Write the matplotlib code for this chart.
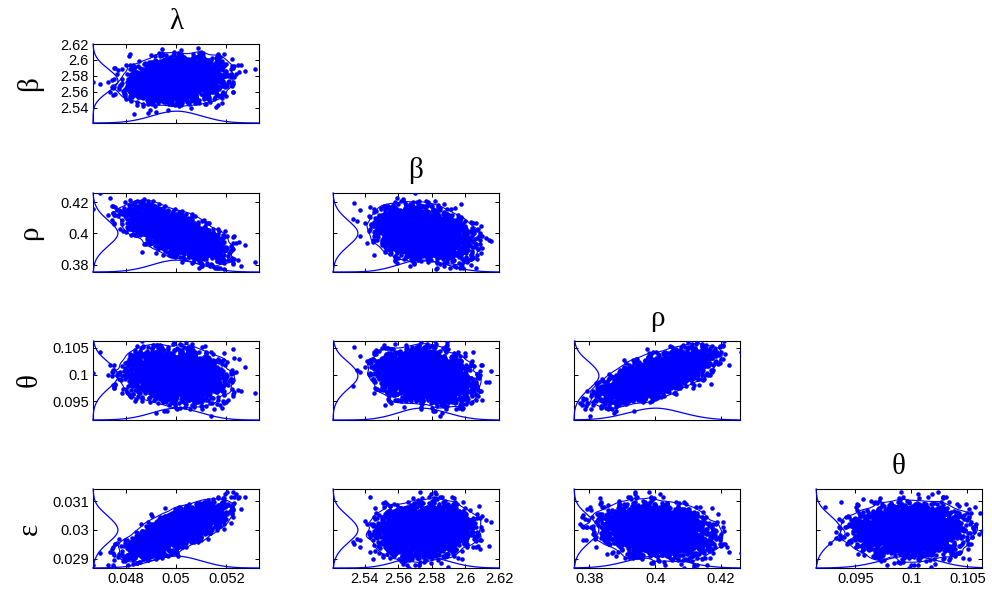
import matplotlib
matplotlib.use("Agg")
import matplotlib.pyplot as plt
import numpy as np

# parameter names, posterior summaries
names = ["λ", "β", "ρ", "θ", "ε"]
means = [0.0500, 2.575, 0.400, 0.0997, 0.0300]
sds = [0.0009, 0.013, 0.0075, 0.0022, 0.00042]
# pairwise correlations (lambda, beta, rho, theta, eps)
corr_lb, corr_lr, corr_lt, corr_le = 0.15, -0.70, -0.08, 0.80
corr_br, corr_bt, corr_be = -0.30, -0.20, 0.10
corr_rt, corr_re = 0.70, -0.20
corr_te = 0.05
n_samples = 3000

# axis limits, ticks and tick labels per parameter
limits = [(0.0467, 0.0533), (2.521, 2.620), (0.3753, 0.4258),
          (0.0915, 0.1063), (0.02868, 0.03142)]
ticks = [[0.048, 0.05, 0.052], [2.54, 2.56, 2.58, 2.6, 2.62],
         [0.38, 0.4, 0.42], [0.095, 0.1, 0.105], [0.029, 0.03, 0.031]]
tick_labels = [["0.048", "0.05", "0.052"], ["2.54", "2.56", "2.58", "2.6", "2.62"],
               ["0.38", "0.4", "0.42"], ["0.095", "0.1", "0.105"],
               ["0.029", "0.03", "0.031"]]

corr = np.eye(5)
pairs = {(0, 1): corr_lb, (0, 2): corr_lr, (0, 3): corr_lt, (0, 4): corr_le,
         (1, 2): corr_br, (1, 3): corr_bt, (1, 4): corr_be,
         (2, 3): corr_rt, (2, 4): corr_re, (3, 4): corr_te}
for (a, b), c in pairs.items():
    corr[a, b] = corr[b, a] = c
# keep it positive definite
w, v = np.linalg.eigh(corr)
corr = v @ np.diag(np.clip(w, 0.02, None)) @ v.T
d = np.sqrt(np.diag(corr))
corr = corr / np.outer(d, d)

rng = np.random.default_rng(3)
z = rng.standard_normal((n_samples, 5)) @ np.linalg.cholesky(corr).T
samples = np.array(means) + z * np.array(sds)

BLUE = (0, 0, 1)


def kde1d(data, grid):
    bw = 1.06 * data.std() * len(data) ** (-0.2) * 2.2
    u = (grid[:, None] - data[None, :]) / bw
    return np.exp(-0.5 * u ** 2).sum(axis=1)


def smooth(h, s=2.0):
    k = np.arange(-6, 7)
    k = np.exp(-0.5 * (k / s) ** 2)
    k /= k.sum()
    h = np.apply_along_axis(lambda r: np.convolve(r, k, mode="same"), 0, h)
    h = np.apply_along_axis(lambda r: np.convolve(r, k, mode="same"), 1, h)
    return h


fig = plt.figure(figsize=(9.92, 5.89), dpi=100)
W, H = 992, 589
col_left = [93, 333, 574, 816]
row_top = [44, 193, 341, 489]
aw, ah = 166, 79

for i in range(4):
    py = i + 1
    for j in range(i + 1):
        px = j
        ax = fig.add_axes([col_left[j] / W, (H - row_top[i] - ah) / H, aw / W, ah / H])
        x = samples[:, px]
        y = samples[:, py]
        xlim, ylim = limits[px], limits[py]

        # 2d density contour
        h, xe, ye = np.histogram2d(x, y, bins=70, range=[xlim, ylim])
        h = smooth(h, 2.5)
        hs = np.sort(h.ravel())[::-1]
        cs = np.cumsum(hs) / hs.sum()
        lev = hs[np.searchsorted(cs, 0.97)]
        xc = 0.5 * (xe[1:] + xe[:-1])
        yc = 0.5 * (ye[1:] + ye[:-1])
        ax.contour(xc, yc, h.T, levels=[lev], colors=[BLUE], linewidths=0.8, zorder=4)

        ax.plot(x, y, ".", color=BLUE, markersize=4.5, zorder=3)

        # marginal densities along left and bottom edges
        gy = np.linspace(ylim[0], ylim[1], 200)
        dy = kde1d(y, gy)
        ax.plot(xlim[0] + dy / dy.max() * 0.15 * (xlim[1] - xlim[0]), gy,
                color=BLUE, lw=0.9, zorder=4, clip_on=False)
        gx = np.linspace(xlim[0], xlim[1], 200)
        dx = kde1d(x, gx)
        ax.plot(gx, ylim[0] + dx / dx.max() * 0.15 * (ylim[1] - ylim[0]),
                color=BLUE, lw=0.9, zorder=4, clip_on=False)

        ax.set_xlim(xlim)
        ax.set_ylim(ylim)
        ax.set_xticks(ticks[px])
        ax.set_yticks(ticks[py])
        if i == 3:
            ax.set_xticklabels(tick_labels[px])
        else:
            ax.set_xticklabels([])
        if j == 0:
            ax.set_yticklabels(tick_labels[py])
        else:
            ax.set_yticklabels([])
        ax.tick_params(direction="in", length=3, width=0.7, top=True, right=True,
                       labelsize=10.5, pad=3)
        for lab in ax.get_xticklabels() + ax.get_yticklabels():
            lab.set_family("Liberation Sans")
        for sp in ax.spines.values():
            sp.set_linewidth(0.8)
        if i == j:
            ax.set_title(names[px], fontsize=21, family="Liberation Serif", pad=11)

    fig.text(30 / W, 1 - (row_top[i] + ah / 2) / H, names[py], rotation=90,
             ha="center", va="center", fontsize=21, family="Liberation Serif")

fig.savefig("out.png", dpi=100)
